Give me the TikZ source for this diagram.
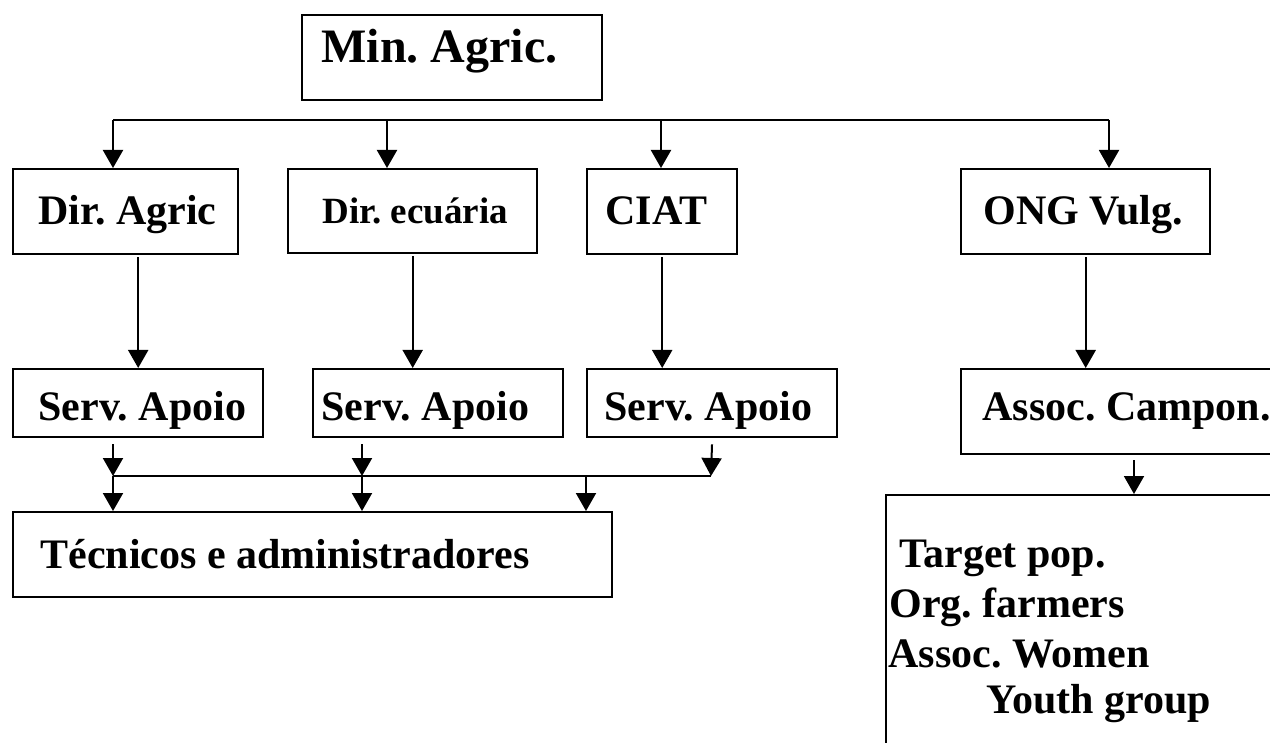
\documentclass[tikz,border=0pt]{standalone}
\usepackage{fontspec}
\setmainfont{Liberation Serif}
\usetikzlibrary{arrows.meta}
\frenchspacing
\begin{document}
\begin{tikzpicture}[x=0.5pt,y=-0.5pt,
  box/.style={draw, line width=1.2pt, inner sep=0pt, anchor=north west},
  txt/.style={anchor=base west, inner sep=0pt, font=\bfseries\fontsize{21pt}{25pt}\selectfont},
  bigtxt/.style={txt, font=\bfseries\fontsize{24pt}{28pt}\selectfont},
  smalltxt/.style={txt, font=\bfseries\fontsize{18.5pt}{22pt}\selectfont},
  conn/.style={line width=1pt},
  arr/.style={conn, -{Triangle[length=9pt,width=10pt]}}]
\useasboundingbox (0,0) rectangle (1270,743);
\clip (0,0) rectangle (1270,743);
% boxes
\node[box, minimum width=150pt, minimum height=42.5pt] (mina) at (301,14) {};
\node[box, minimum width=112.5pt, minimum height=42.5pt] (dira) at (12,168) {};
\node[box, minimum width=124.5pt, minimum height=42pt] (dire) at (287,168) {};
\node[box, minimum width=75pt, minimum height=42.5pt] (ciat) at (586,168) {};
\node[box, minimum width=124.5pt, minimum height=42.5pt] (ong) at (960,168) {};
\node[box, minimum width=125pt, minimum height=34pt] (sa1) at (12,368) {};
\node[box, minimum width=125pt, minimum height=34pt] (sa2) at (312,368) {};
\node[box, minimum width=125pt, minimum height=34pt] (sa3) at (586,368) {};
\node[box, minimum width=220pt, minimum height=42.5pt] (assoc) at (960,368) {};
\node[box, minimum width=299.5pt, minimum height=42.5pt] (tec) at (12,511) {};
\node[box, minimum width=260pt, minimum height=200pt] (target) at (885,494) {};
% texts
\node[bigtxt] (mina-t) at (321,63) {Min. Agric.};
\node[txt] (dira-t) at (38,225) {Dir. Agric};
\node[smalltxt] (dire-t) at (322,224) {Dir. ecuária};
\node[txt] (ciat-t) at (605,225) {CIAT};
\node[txt] (ong-t) at (983,225) {ONG Vulg.};
\node[txt] (sa1-t) at (38,421) {Serv. Apoio};
\node[txt] (sa2-t) at (321,421) {Serv. Apoio};
\node[txt] (sa3-t) at (604,421) {Serv. Apoio};
\node[txt] (assoc-t) at (982,421) {Assoc. Campon.};
\node[txt] (tec-t) at (40,568) {Técnicos e administradores};
\node[txt] (tg1) at (899,567) {Target pop.};
\node[txt] (tg2) at (889,617) {Org. farmers};
\node[txt] (tg3) at (888,667) {Assoc. Women};
\node[txt] (tg4) at (986,713) {Youth group};
% top bus
\coordinate (bA) at (113,120);
\coordinate (bB) at (387,120);
\coordinate (bC) at (661,120);
\coordinate (bD) at (1109,120);
\draw[conn] (bA) -- (bD);
\draw[arr] (bA) -- (bA |- dira.north);
\draw[arr] (bB) -- (bB |- dire.north);
\draw[arr] (bC) -- (bC |- ciat.north);
\draw[arr] (bD) -- (bD |- ong.north);
% directorates to services
\draw[arr, shorten <=1pt] (dira.south -| sa1.north) -- (sa1.north);
\draw[arr, shorten <=1pt] (dire.south) -- (dire.south |- sa2.north);
\draw[arr, shorten <=1pt] (ciat.south) -- (ciat.south |- sa3.north);
\draw[arr, shorten <=1pt] (ong.south) -- (ong.south |- assoc.north);
% services to tecnicos
\coordinate (jA) at (113,476);
\coordinate (jB) at (362,476);
\coordinate (jC) at (711,476);
\coordinate (jD) at (586,476);
\draw[arr, shorten <=3pt] (jA |- sa1.south) -- (jA);
\draw[arr, shorten <=3pt] (jB |- sa2.south) -- (jB);
\draw[arr, shorten <=3pt] (sa3.south) -- (jC);
\draw[conn] (jA) -- (jC);
\draw[arr] (jA) -- (jA |- tec.north);
\draw[arr] (jB) -- (jB |- tec.north);
\draw[arr] (jD) -- (jD |- tec.north);
% assoc to target
\coordinate (kA) at (1134,494);
\draw[arr, shorten <=2.5pt] (kA |- assoc.south) -- (kA |- target.north);
\end{tikzpicture}
\end{document}
